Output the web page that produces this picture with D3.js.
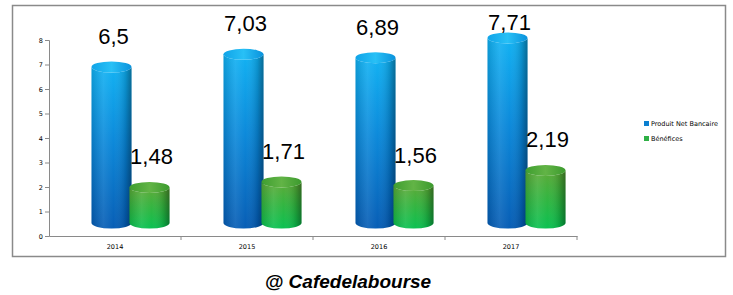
<!DOCTYPE html>
<html>
<head>
<meta charset="utf-8">
<script src="https://cdn.jsdelivr.net/npm/d3@7"></script>
<style>
  body { margin: 0; background: #fff; }
  .tick-label { font-family: 'DejaVu Sans', sans-serif; font-size: 6.5px; fill: #000; }
  .bar-label { font-family: 'Liberation Sans', Arial, sans-serif; font-size: 22px; fill: #000; }
  .legend-label { font-family: 'DejaVu Sans', sans-serif; font-size: 6.5px; fill: #000; }
  .footer { font-family: 'Liberation Sans', Arial, sans-serif; font-size: 19px; font-weight: bold; font-style: italic; fill: #000; }
</style>
</head>
<body>
<div id="chart"></div>
<script>
'use strict';

const years = ['2014', '2015', '2016', '2017'];
const produitNetBancaire = [6.5, 7.03, 6.89, 7.71];
const benefices = [1.48, 1.71, 1.56, 2.19];
const seriesNames = ['Produit Net Bancaire', 'Bénéfices'];
const yTicks = [0, 1, 2, 3, 4, 5, 6, 7, 8];

const width = 733;
const height = 295;

const svg = d3.select('#chart').append('svg')
  .attr('width', width)
  .attr('height', height);

const defs = svg.append('defs');

function linearGrad(id, horizontal, stops) {
  const g = defs.append('linearGradient')
    .attr('id', id)
    .attr('x1', 0).attr('y1', 0)
    .attr('x2', horizontal ? 1 : 0)
    .attr('y2', horizontal ? 0 : 1);
  stops.forEach(s => {
    g.append('stop')
      .attr('offset', s[0])
      .attr('stop-color', s[1])
      .attr('stop-opacity', s[2] === undefined ? 1 : s[2]);
  });
}

linearGrad('blueBody', false, [[0, '#0eb0f2'], [0.45, '#0888da'], [1, '#035bb4']]);
linearGrad('greenBody', false, [[0, '#5aa834'], [0.5, '#2eb43e'], [1, '#06c04e']]);
linearGrad('shade', true, [[0, '#000', 0.12], [0.3, '#fff', 0.1], [0.55, '#fff', 0.02], [0.85, '#000', 0.15], [1, '#000', 0.38]]);
linearGrad('blueTop', true, [[0, '#10a4e8'], [0.5, '#28c0f6'], [1, '#0a92dc']]);
linearGrad('greenTop', true, [[0, '#3f9e30'], [0.5, '#62b446'], [1, '#3c9a2e']]);

// outer frame
svg.append('rect')
  .attr('x', 12.5)
  .attr('y', 5.5)
  .attr('width', 713)
  .attr('height', 251)
  .attr('fill', '#fff')
  .attr('stroke', '#8a8a8a')
  .attr('stroke-width', 1.5);

const plot = {left: 49, right: 577, top: 40, bottom: 236};

const xScale = d3.scaleBand()
  .domain(years)
  .range([plot.left, plot.right]);

const yScale = d3.scaleLinear()
  .domain([0, 8])
  .range([plot.bottom, plot.top]);

// bars sit on a floor pushed back in depth
const barScale = d3.scaleLinear()
  .domain([0, 8])
  .range([223, 31]);

const seriesScale = d3.scalePoint()
  .domain(seriesNames)
  .range([62.5, 100.5]);

const barWidth = 40;
const rx = barWidth / 2;
const ry = 5.5;

// axes
const yAxis = d3.axisLeft(yScale)
  .tickValues(yTicks)
  .tickSize(4)
  .tickFormat(d3.format('d'));

const yG = svg.append('g')
  .attr('transform', 'translate(' + plot.left + ',0)')
  .call(yAxis);

yG.select('.domain').attr('stroke', '#8a8a8a');
yG.selectAll('.tick line').attr('stroke', '#8a8a8a');
yG.selectAll('.tick text')
  .attr('class', 'tick-label')
  .attr('x', -6)
  .attr('font-size', null)
  .attr('font-family', null);

const xAxis = d3.axisBottom(xScale).tickSize(0).tickSizeOuter(0);

const xG = svg.append('g')
  .attr('transform', 'translate(0,' + plot.bottom + ')')
  .call(xAxis);

xG.select('.domain').attr('stroke', '#8a8a8a');
xG.selectAll('.tick text')
  .attr('class', 'tick-label')
  .attr('y', 8)
  .attr('font-size', null)
  .attr('font-family', null);

xG.selectAll('.sep')
  .data(years)
  .enter()
  .append('line')
  .attr('class', 'sep')
  .attr('x1', d => xScale(d) + xScale.bandwidth())
  .attr('x2', d => xScale(d) + xScale.bandwidth())
  .attr('y1', 0)
  .attr('y2', 4)
  .attr('stroke', '#8a8a8a');

// bars
const barData = [];
years.forEach((year, i) => {
  barData.push({year: year, series: seriesNames[0], value: produitNetBancaire[i], body: 'blueBody', top: 'blueTop'});
  barData.push({year: year, series: seriesNames[1], value: benefices[i], body: 'greenBody', top: 'greenTop'});
});

const barCenter = d => xScale(d.year) + seriesScale(d.series);

function bodyPath(d) {
  const x0 = barCenter(d) - rx;
  const x1 = barCenter(d) + rx;
  const yTop = barScale(d.value);
  const yBot = barScale(0);
  return 'M' + x0 + ',' + yTop +
    'L' + x0 + ',' + yBot +
    'A' + rx + ',' + ry + ' 0 0 0 ' + x1 + ',' + yBot +
    'L' + x1 + ',' + yTop +
    'A' + rx + ',' + ry + ' 0 0 1 ' + x0 + ',' + yTop + 'Z';
}

const bars = svg.append('g')
  .selectAll('g')
  .data(barData)
  .enter()
  .append('g');

bars.append('path')
  .attr('d', bodyPath)
  .attr('fill', d => 'url(#' + d.body + ')');

bars.append('path')
  .attr('d', bodyPath)
  .attr('fill', 'url(#shade)');

bars.append('ellipse')
  .attr('cx', barCenter)
  .attr('cy', d => barScale(d.value))
  .attr('rx', rx)
  .attr('ry', ry)
  .attr('fill', d => 'url(#' + d.top + ')');

// value labels, kept inside the plot area
svg.append('g')
  .selectAll('text')
  .data(barData)
  .enter()
  .append('text')
  .attr('class', 'bar-label')
  .attr('x', d => barCenter(d) + 2)
  .attr('y', d => Math.max(barScale(d.value) - 23, 30))
  .attr('text-anchor', 'middle')
  .text(d => String(d.value).replace('.', ','));

// legend
const legendColours = ['#0a7fd0', '#2fb046'];
const legend = svg.append('g')
  .attr('transform', 'translate(644,121)');

const legendItems = legend.selectAll('g')
  .data(seriesNames)
  .enter()
  .append('g')
  .attr('transform', (d, i) => 'translate(0,' + (i * 15) + ')');

legendItems.append('rect')
  .attr('width', 5)
  .attr('height', 5)
  .attr('fill', (d, i) => legendColours[i]);

legendItems.append('text')
  .attr('class', 'legend-label')
  .attr('x', 7)
  .attr('y', 5)
  .text(d => d);

svg.append('text')
  .attr('class', 'footer')
  .attr('x', 348)
  .attr('y', 288)
  .attr('text-anchor', 'middle')
  .text('@ Cafedelabourse');
</script>
</body>
</html>
